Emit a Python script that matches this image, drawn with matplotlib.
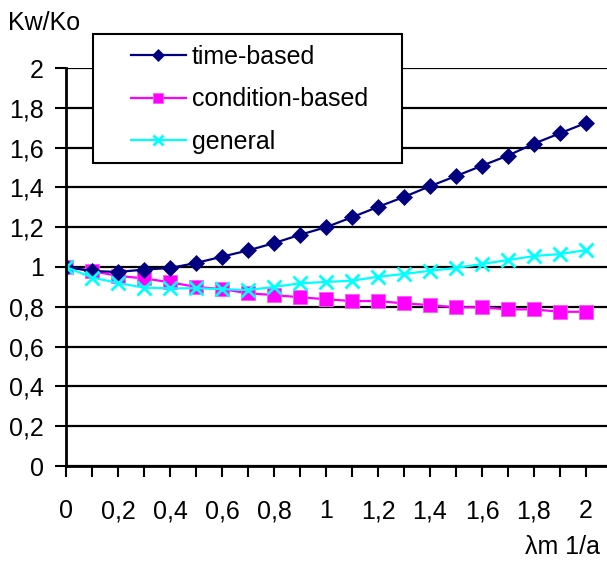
import matplotlib
matplotlib.use("Agg")
import matplotlib.pyplot as plt
from matplotlib.patches import Rectangle
import numpy as np

plt.rcParams['font.family'] = ['Liberation Sans', 'DejaVu Sans']

lam = [0.0, 0.1, 0.2, 0.3, 0.4, 0.5, 0.6, 0.7, 0.8, 0.9, 1.0,
       1.1, 1.2, 1.3, 1.4, 1.5, 1.6, 1.7, 1.8, 1.9, 2.0]
time_based = [1.0, 0.98, 0.975, 0.987, 0.995, 1.02, 1.052, 1.083, 1.12, 1.162, 1.20,
              1.25, 1.302, 1.352, 1.406, 1.457, 1.509, 1.56, 1.62, 1.672, 1.724]
condition_based = [1.0, 0.98, 0.955, 0.943, 0.923, 0.90, 0.889, 0.868, 0.859, 0.848, 0.838,
                   0.829, 0.829, 0.817, 0.809, 0.797, 0.797, 0.787, 0.787, 0.775, 0.775]
general = [1.0, 0.947, 0.92, 0.896, 0.893, 0.893, 0.889, 0.884, 0.90, 0.918, 0.925,
           0.931, 0.951, 0.965, 0.981, 0.995, 1.015, 1.035, 1.055, 1.065, 1.085]
series_names = ["time-based", "condition-based", "general"]
x_ticks = [0.0, 0.1, 0.2, 0.3, 0.4, 0.5, 0.6, 0.7, 0.8, 0.9, 1.0,
           1.1, 1.2, 1.3, 1.4, 1.5, 1.6, 1.7, 1.8, 1.9, 2.0]
x_labels = ["0", "", "0,2", "", "0,4", "", "0,6", "", "0,8", "", "1",
            "", "1,2", "", "1,4", "", "1,6", "", "1,8", "", "2"]
y_ticks = [0, 0.2, 0.4, 0.6, 0.8, 1.0, 1.2, 1.4, 1.6, 1.8, 2.0]
y_labels = ["0", "0,2", "0,4", "0,6", "0,8", "1", "1,2", "1,4", "1,6", "1,8", "2"]

W, H = 607, 561
fig = plt.figure(figsize=(W / 100, H / 100), dpi=100)
left, right, top, bottom = 66, 610, 68, 466
ax = fig.add_axes([left / W, 1 - bottom / H, (right - left) / W, (bottom - top) / H])

ax.plot(lam, time_based, color='#000080', lw=1.6, marker='D', markersize=8.5,
        markeredgewidth=0.5, label=series_names[0], zorder=3)
ax.plot(lam, condition_based, color='#FF00FF', lw=1.6, marker='s', markersize=10.5,
        markeredgewidth=0.6, markeredgecolor='#FF55FF', label=series_names[1], zorder=2)
ax.plot(lam, general, color='#00FFFF', lw=1.6, marker='x', markersize=10,
        markeredgewidth=2, label=series_names[2], zorder=4)

ax.set_xlim(0, 2.0 + (right - 586) / 260)
ax.set_ylim(0, 2)
ax.set_xticks(x_ticks)
ax.set_xticklabels(x_labels)
ax.set_yticks(y_ticks)
ax.set_yticklabels(y_labels)
ax.tick_params(axis='both', labelsize=18, length=8, width=1.5, color='black')
ax.tick_params(axis='x', pad=16)
ax.tick_params(axis='y', pad=8)
ax.grid(axis='y', color='black', lw=1.6)
ax.set_axisbelow(True)
for s in ['top', 'right']:
    ax.spines[s].set_visible(False)
for s in ['left', 'bottom']:
    ax.spines[s].set_linewidth(2)
    ax.spines[s].set_zorder(5)

fig.text(8 / W, 1 - 23 / H, "Kw/Ko", fontsize=18, ha='left', va='center')
fig.text(600 / W, 1 - 547 / H, "λm 1/a", fontsize=18, ha='right', va='center')

rect = Rectangle((93 / W, 1 - 163 / H), (402 - 93) / W, (163 - 34) / H,
                 transform=fig.transFigure, facecolor='white', edgecolor='black',
                 lw=1.5, zorder=6)
fig.add_artist(rect)
handles, labels = ax.get_legend_handles_labels()
leg = fig.legend(handles, labels, loc='upper left',
                 bbox_to_anchor=(113 / W, 1 - 27 / H), frameon=False,
                 fontsize=18, handlelength=2.2, handletextpad=0.25,
                 labelspacing=0.75, markerscale=0.75, borderpad=0.2)
leg.set_zorder(7)

fig.savefig("out.png", dpi=100)
